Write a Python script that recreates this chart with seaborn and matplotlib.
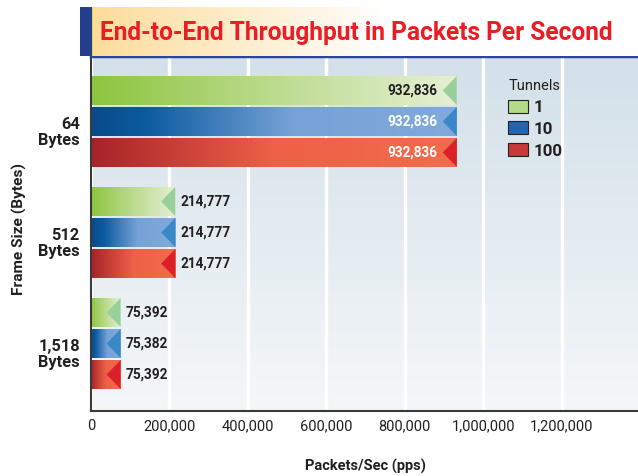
import numpy as np
import pandas as pd
import matplotlib
matplotlib.use("Agg")
import matplotlib.pyplot as plt
import seaborn as sns
from matplotlib.colors import LinearSegmentedColormap
from matplotlib.patches import Polygon, Rectangle, Patch
from matplotlib.ticker import FuncFormatter
from matplotlib.transforms import ScaledTranslation

# ---- data ----
frame_sizes = ["64\nBytes", "512\nBytes", "1,518\nBytes"]
tunnels = ["1", "10", "100"]
pps_1 = [932836, 214777, 75392]
pps_10 = [932836, 214777, 75382]
pps_100 = [932836, 214777, 75392]
x_ticks = [0, 200000, 400000, 600000, 800000, 1000000, 1200000]

title = "End-to-End Throughput in Packets Per Second"

sns.set_theme(style="white")
FONT = ["Roboto", "DejaVu Sans"]
plt.rcParams["font.family"] = FONT
TXT = "#231F20"

df = pd.DataFrame({
    "frame": frame_sizes * 3,
    "tunnels": [t for t in tunnels for _ in frame_sizes],
    "pps": pps_1 + pps_10 + pps_100,
})

W, H = 638, 476
fig = plt.figure(figsize=(W / 100, H / 100), dpi=100)
ax = fig.add_axes([91 / W, 1 - 411 / H, 1 - 91 / W, (411 - 56) / H])

solid = {"1": "#B5D98A", "10": "#2366AE", "100": "#C9393A"}
sns.barplot(data=df, y="frame", x="pps", hue="tunnels", order=frame_sizes,
            hue_order=tunnels, orient="h", width=0.838, gap=0.065,
            palette=[solid[t] for t in tunnels], legend=False, ax=ax,
            zorder=2)

XMAX = 1395000
ax.set_xlim(0, XMAX)
ax.set_ylim(2.608, -0.59)

# background wash of the plotting area
bg = LinearSegmentedColormap.from_list("bg", ["#D3E0E9", "#F4F7F9"])
ax.imshow(np.linspace(0, 1, 256).reshape(-1, 1), cmap=bg, aspect="auto",
          extent=(0, 1, 0, 1), transform=ax.transAxes, zorder=0,
          origin="upper")

ramps = {
    "1": LinearSegmentedColormap.from_list(
        "g", [(0, "#8CC53F"), (0.5, "#BCDB8E"), (1, "#E5F0D3")]),
    "10": LinearSegmentedColormap.from_list(
        "b", [(0, "#094A89"), (0.15, "#0C5BA0"), (0.55, "#76A2D7"), (1, "#80AADC")]),
    "100": LinearSegmentedColormap.from_list(
        "r", [(0, "#A72329"), (0.5, "#EE6047"), (1, "#F26C4C")]),
}
tri_col = {"1": "#99CF9A", "10": "#3A88C8", "100": "#DA2129"}
in_txt = {"1": TXT, "10": "white", "100": "white"}

px = XMAX / (W - 91)
tri_w = 14 * px
grad = np.linspace(0, 1, 256).reshape(1, -1)

for cont, t in zip(ax.containers, tunnels):
    for bar in cont:
        x0, y0 = bar.get_x(), bar.get_y()
        w, h = bar.get_width(), bar.get_height()
        bar.set_visible(False)
        ax.imshow(grad, cmap=ramps[t], aspect="auto",
                  extent=(x0, x0 + w, y0 + h, y0), zorder=2)
        x1 = x0 + w
        ax.add_patch(Polygon([(x1, y0), (x1, y0 + h), (x1 - tri_w, y0 + h / 2)],
                             closed=True, facecolor=tri_col[t], edgecolor="none",
                             zorder=3))
        label = f"{int(w):,}"
        yc = y0 + h / 2
        if w > 500000:
            ax.annotate(label, (x1, yc), xytext=(-19 * 0.72, 0),
                        textcoords="offset points", ha="right", va="center",
                        fontsize=9.8, fontweight="bold", color=in_txt[t], zorder=4)
        else:
            ax.annotate(label, (x1, yc), xytext=(5 * 0.72, 0),
                        textcoords="offset points", ha="left", va="center",
                        fontsize=9.8, fontweight="bold", color=TXT, zorder=4)

ax.set_xlim(0, XMAX)
ax.set_ylim(2.608, -0.59)

# grid and axes
ax.set_xticks(x_ticks)
ax.xaxis.set_major_formatter(FuncFormatter(lambda v, p: f"{int(v):,}"))
ax.grid(axis="x", color="white", linewidth=2.4, zorder=1)
ax.grid(axis="y", visible=False)
ax.set_axisbelow(True)
ax.tick_params(axis="both", length=0)
ax.tick_params(axis="x", pad=6, labelsize=10.5, labelcolor=TXT)
ax.tick_params(axis="y", pad=8, labelsize=11.8, labelcolor=TXT)
shift_down = ScaledTranslation(0, -9 / 100, fig.dpi_scale_trans)
for lab in ax.get_yticklabels():
    lab.set_fontweight("bold")
    lab.set_multialignment("right")
    lab.set_linespacing(1.1)
    lab.set_transform(lab.get_transform() + shift_down)

renderer = fig.canvas.get_renderer()

xl = ax.set_xlabel("Packets/Sec (pps)", fontsize=10.5, fontweight="bold", color=TXT)
xl.set_fontsize(10.5 * 121 / xl.get_window_extent(renderer).width)
yl = ax.set_ylabel("Frame Size (Bytes)", fontsize=11, fontweight="bold", color=TXT)
yl.set_fontsize(11 * 132 / yl.get_window_extent(renderer).height)
ax.xaxis.set_label_coords((365 - 91) / (W - 91), -(459 - 411) / (411 - 56))
ax.yaxis.set_label_coords((27 - 91) / (W - 91), (411 - 229) / (411 - 56))

ax.spines["right"].set_visible(False)
ax.spines["left"].set_color("#3A3A3A")
ax.spines["left"].set_linewidth(1.5)
ax.spines["bottom"].set_color("#3A3A3A")
ax.spines["bottom"].set_linewidth(1.5)
ax.spines["top"].set_color("#2B4598")
ax.spines["top"].set_linewidth(2.5)

# legend
handles = [Patch(facecolor=solid[t], edgecolor="#222222", linewidth=0.8)
           for t in tunnels]
leg = ax.legend(handles, tunnels, title="Tunnels", frameon=False,
                loc="upper left", bbox_to_anchor=(493 / W, 1 - 64 / H),
                bbox_transform=fig.transFigure, prop={"size": 12.2, "weight": "bold"},
                title_fontsize=10.5, handlelength=1.15, handleheight=0.8,
                handletextpad=0.35, labelspacing=0.38, alignment="left")
for txt in leg.get_texts():
    txt.set_color(TXT)
leg.get_title().set_color(TXT)

# title band
band = fig.add_axes([80 / W, 1 - 56 / H, 1 - 80 / W, 49 / H])
band.set_axis_off()
tb = LinearSegmentedColormap.from_list(
    "tb", [(0, "#FDDB97"), (0.25, "#FEEBC6"), (0.55, "#FFFFFF"), (1, "#FFFFFF")])
band.imshow(np.linspace(0, 1, 256).reshape(1, -1), cmap=tb, aspect="auto",
            extent=(0, 1, 0, 1))
band.set_xlim(0, 1)
band.set_ylim(0, 1)
band.add_patch(Rectangle((0, 0), 12 / 558, 1, facecolor="#243F8E",
                         edgecolor="none"))
band.add_patch(Rectangle((12 / 558, 0), 1.5 / 558, 1, facecolor="#D7E04A",
                         edgecolor="none"))
ttl = fig.text(100 / W, 1 - 33 / H, title, fontsize=20, fontweight="bold",
               color="#EC1C24", ha="left", va="center")
# fit the heading to its 512 px slot
tw = ttl.get_window_extent(renderer).width
ttl.set_fontsize(20 * 512 / tw)

fig.savefig("out.png", dpi=100)
